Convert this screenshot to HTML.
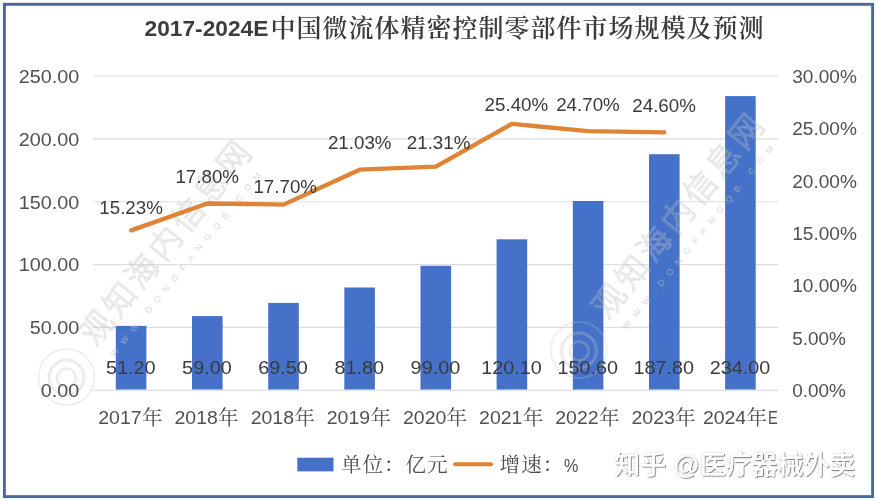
<!DOCTYPE html>
<html lang="zh-CN">
<head>
<meta charset="utf-8">
<title>2017-2024E中国微流体精密控制零部件市场规模及预测</title>
<style>
html,body{margin:0;padding:0;background:#fff;}
body{width:876px;height:500px;overflow:hidden;position:relative;}
svg{display:block;position:absolute;left:0;top:0;}
.ax{font-family:"Liberation Sans",sans-serif;font-size:18.6px;fill:#505050;}
.dl{font-family:"Liberation Sans",sans-serif;font-size:18.6px;fill:#3a3a3a;}
.cj{font-family:"Liberation Serif","Noto Serif CJK SC","Noto Sans CJK SC",serif;font-size:20.6px;fill:#505050;}
.tt{font-family:"Liberation Sans",sans-serif;font-weight:bold;font-size:22px;fill:#3c3c3c;}
.tc{font-family:"Liberation Serif","Noto Serif CJK SC","Noto Sans CJK SC",serif;font-weight:600;font-size:25px;fill:#3c3c3c;}
.wm{font-family:"Liberation Sans","Noto Sans CJK SC","WenQuanYi Zen Hei",sans-serif;font-weight:300;font-size:32px;fill:none;stroke:#c0c0c0;stroke-opacity:.5;stroke-width:1;}
.wms{font-family:"Liberation Sans",sans-serif;font-size:9px;fill:#c0c0c0;fill-opacity:.65;}
.zh{font-family:"Liberation Sans","Noto Sans CJK SC",sans-serif;font-size:26px;font-weight:500;fill:#fff;stroke:none;}
</style>
</head>
<body>
<svg width="876" height="500" viewBox="0 0 876 500">
<defs>
<filter id="sh" x="-5%" y="-20%" width="110%" height="140%"><feDropShadow dx="0" dy="0" stdDeviation="0.9" flood-color="#000" flood-opacity="0.22" result="a"/><feDropShadow in="a" dx="1" dy="1" stdDeviation="0.4" flood-color="#000" flood-opacity="0.42"/></filter>
<filter id="bl" x="-10%" y="-10%" width="120%" height="120%"><feGaussianBlur stdDeviation="0.45"/></filter>
</defs>
<rect x="0" y="0" width="876" height="500" fill="#fdfeff"/>
<rect x="4.4" y="4.3" width="868.2" height="492.3" fill="#fff" stroke="#466a9f" stroke-width="2.9"/>

<g stroke="#dedede" stroke-width="1.15">
<line x1="93.1" y1="390.3" x2="778.5" y2="390.3"/>
<line x1="93.1" y1="327.4" x2="778.5" y2="327.4"/>
<line x1="93.1" y1="264.6" x2="778.5" y2="264.6"/>
<line x1="93.1" y1="201.7" x2="778.5" y2="201.7"/>
<line x1="93.1" y1="138.9" x2="778.5" y2="138.9"/>
<line x1="93.1" y1="76.0" x2="778.5" y2="76.0"/>
</g>
<g fill="#4572c8">
<rect x="115.8" y="325.9" width="30.6" height="63.6"/>
<rect x="192.0" y="316.1" width="30.6" height="73.4"/>
<rect x="268.2" y="302.9" width="30.6" height="86.6"/>
<rect x="344.3" y="287.5" width="30.6" height="102.0"/>
<rect x="420.5" y="265.8" width="30.6" height="123.7"/>
<rect x="496.6" y="239.3" width="30.6" height="150.2"/>
<rect x="572.8" y="201.0" width="30.6" height="188.5"/>
<rect x="649.0" y="154.2" width="30.6" height="235.3"/>
<rect x="725.1" y="96.1" width="30.6" height="293.4"/>
</g>
<g transform="translate(0,0)" filter="url(#bl)">
<g fill="none" stroke="#c4c4c4" stroke-opacity=".32">
<circle cx="66.5" cy="377" r="28" stroke-width="1.5"/>
<circle cx="66.5" cy="377.5" r="17.5" stroke-width="3"/>
<circle cx="66.5" cy="378" r="9.5" stroke-width="2.5"/>
</g>
<g transform="translate(95.4,347.1) rotate(-51)">
<text class="wm" x="0" y="0" textLength="249.5" lengthAdjust="spacing">观知海内信息网</text>
<text class="wms" x="4" y="20.5" textLength="234" lengthAdjust="spacing">WWW.DONGFANGQB.COM</text>
</g>
</g>
<g transform="translate(512.5,-27)" filter="url(#bl)">
<g fill="none" stroke="#c4c4c4" stroke-opacity=".32">
<circle cx="66.5" cy="377" r="28" stroke-width="1.5"/>
<circle cx="66.5" cy="377.5" r="17.5" stroke-width="3"/>
<circle cx="66.5" cy="378" r="9.5" stroke-width="2.5"/>
</g>
<g transform="translate(95.4,347.1) rotate(-51)">
<text class="wm" x="0" y="0" textLength="249.5" lengthAdjust="spacing">观知海内信息网</text>
<text class="wms" x="4" y="20.5" textLength="234" lengthAdjust="spacing">WWW.DONGFANGQB.COM</text>
</g>
</g>
<polyline points="131.1,230.4 207.3,203.5 283.5,204.6 359.6,169.7 435.8,166.7 511.9,123.9 588.1,131.2 664.3,132.3" fill="none" stroke="#e18335" stroke-width="4.3" stroke-linecap="round" stroke-linejoin="round"/>
<text class="ax" x="40.8" y="397.1" textLength="38.5" lengthAdjust="spacingAndGlyphs">0.00</text>
<text class="ax" x="29.8" y="334.2" textLength="49.5" lengthAdjust="spacingAndGlyphs">50.00</text>
<text class="ax" x="18.8" y="271.4" textLength="60.5" lengthAdjust="spacingAndGlyphs">100.00</text>
<text class="ax" x="18.8" y="208.5" textLength="60.5" lengthAdjust="spacingAndGlyphs">150.00</text>
<text class="ax" x="18.8" y="145.7" textLength="60.5" lengthAdjust="spacingAndGlyphs">200.00</text>
<text class="ax" x="18.8" y="82.8" textLength="60.5" lengthAdjust="spacingAndGlyphs">250.00</text>
<text class="ax" x="792.2" y="397.0" textLength="53.7" lengthAdjust="spacingAndGlyphs">0.00%</text>
<text class="ax" x="792.2" y="344.6" textLength="53.7" lengthAdjust="spacingAndGlyphs">5.00%</text>
<text class="ax" x="792.2" y="292.2" textLength="64.7" lengthAdjust="spacingAndGlyphs">10.00%</text>
<text class="ax" x="792.2" y="239.8" textLength="64.7" lengthAdjust="spacingAndGlyphs">15.00%</text>
<text class="ax" x="792.2" y="187.5" textLength="64.7" lengthAdjust="spacingAndGlyphs">20.00%</text>
<text class="ax" x="792.2" y="135.1" textLength="64.7" lengthAdjust="spacingAndGlyphs">25.00%</text>
<text class="ax" x="792.2" y="82.7" textLength="64.7" lengthAdjust="spacingAndGlyphs">30.00%</text>
<text class="dl" x="105.9" y="373.8" textLength="49.7" lengthAdjust="spacingAndGlyphs">51.20</text>
<text class="dl" x="182.1" y="373.8" textLength="49.7" lengthAdjust="spacingAndGlyphs">59.00</text>
<text class="dl" x="258.2" y="373.8" textLength="49.7" lengthAdjust="spacingAndGlyphs">69.50</text>
<text class="dl" x="334.4" y="373.8" textLength="49.7" lengthAdjust="spacingAndGlyphs">81.80</text>
<text class="dl" x="410.6" y="373.8" textLength="49.7" lengthAdjust="spacingAndGlyphs">99.00</text>
<text class="dl" x="481.3" y="373.8" textLength="60.5" lengthAdjust="spacingAndGlyphs">120.10</text>
<text class="dl" x="557.5" y="373.8" textLength="60.5" lengthAdjust="spacingAndGlyphs">150.60</text>
<text class="dl" x="633.6" y="373.8" textLength="60.5" lengthAdjust="spacingAndGlyphs">187.80</text>
<text class="dl" x="709.8" y="373.8" textLength="60.5" lengthAdjust="spacingAndGlyphs">234.00</text>
<text class="dl" x="99.3" y="213.9" textLength="63.6" lengthAdjust="spacingAndGlyphs">15.23%</text>
<text class="dl" x="175.4" y="183.4" textLength="63.6" lengthAdjust="spacingAndGlyphs">17.80%</text>
<text class="dl" x="253.4" y="193.3" textLength="63.6" lengthAdjust="spacingAndGlyphs">17.70%</text>
<text class="dl" x="327.9" y="149.3" textLength="63.6" lengthAdjust="spacingAndGlyphs">21.03%</text>
<text class="dl" x="406.8" y="149.3" textLength="63.6" lengthAdjust="spacingAndGlyphs">21.31%</text>
<text class="dl" x="484.6" y="110.7" textLength="63.6" lengthAdjust="spacingAndGlyphs">25.40%</text>
<text class="dl" x="556.2" y="110.7" textLength="63.6" lengthAdjust="spacingAndGlyphs">24.70%</text>
<text class="dl" x="632.3" y="111.5" textLength="63.6" lengthAdjust="spacingAndGlyphs">24.60%</text>
<text class="ax" x="98.3" y="424"><tspan textLength="43.3" lengthAdjust="spacingAndGlyphs">2017</tspan><tspan class="cj" x="141.9" y="425.1">年</tspan></text>
<text class="ax" x="174.5" y="424"><tspan textLength="43.3" lengthAdjust="spacingAndGlyphs">2018</tspan><tspan class="cj" x="218.1" y="425.1">年</tspan></text>
<text class="ax" x="250.7" y="424"><tspan textLength="43.3" lengthAdjust="spacingAndGlyphs">2018</tspan><tspan class="cj" x="294.3" y="425.1">年</tspan></text>
<text class="ax" x="326.8" y="424"><tspan textLength="43.3" lengthAdjust="spacingAndGlyphs">2019</tspan><tspan class="cj" x="370.4" y="425.1">年</tspan></text>
<text class="ax" x="403.0" y="424"><tspan textLength="43.3" lengthAdjust="spacingAndGlyphs">2020</tspan><tspan class="cj" x="446.6" y="425.1">年</tspan></text>
<text class="ax" x="479.1" y="424"><tspan textLength="43.3" lengthAdjust="spacingAndGlyphs">2021</tspan><tspan class="cj" x="522.8" y="425.1">年</tspan></text>
<text class="ax" x="555.3" y="424"><tspan textLength="43.3" lengthAdjust="spacingAndGlyphs">2022</tspan><tspan class="cj" x="598.9" y="425.1">年</tspan></text>
<text class="ax" x="631.5" y="424"><tspan textLength="43.3" lengthAdjust="spacingAndGlyphs">2023</tspan><tspan class="cj" x="675.1" y="425.1">年</tspan></text>
<text class="ax" x="702.9" y="424"><tspan textLength="43.3" lengthAdjust="spacingAndGlyphs">2024</tspan><tspan class="cj" x="746.5" y="425.1">年</tspan><tspan x="768.1" y="424" textLength="9.8" lengthAdjust="spacingAndGlyphs">E</tspan></text>
<text class="tt" x="144.6" y="36"><tspan textLength="123.7" lengthAdjust="spacingAndGlyphs">2017-2024E</tspan><tspan class="tc" x="270.6" y="36.8" textLength="493" lengthAdjust="spacing">中国微流体精密控制零部件市场规模及预测</tspan></text>
<rect x="297.3" y="457.7" width="36.2" height="13.7" fill="#4572c8"/>
<text class="cj" x="340.9" y="472.2" textLength="106.6" lengthAdjust="spacing">单位：亿元</text>
<line x1="455.2" y1="464.3" x2="491" y2="464.3" stroke="#e18335" stroke-width="4" stroke-linecap="round"/>
<text class="cj" x="499.5" y="472.2"><tspan textLength="63.9" lengthAdjust="spacing">增速：</tspan><tspan class="ax" x="564" y="472" textLength="14.4" lengthAdjust="spacingAndGlyphs">%</tspan></text>
<g filter="url(#sh)"><text class="zh" x="614.3" y="474.3" textLength="241" lengthAdjust="spacingAndGlyphs">知乎 @医疗器械外卖</text></g>
</svg>
</body>
</html>
